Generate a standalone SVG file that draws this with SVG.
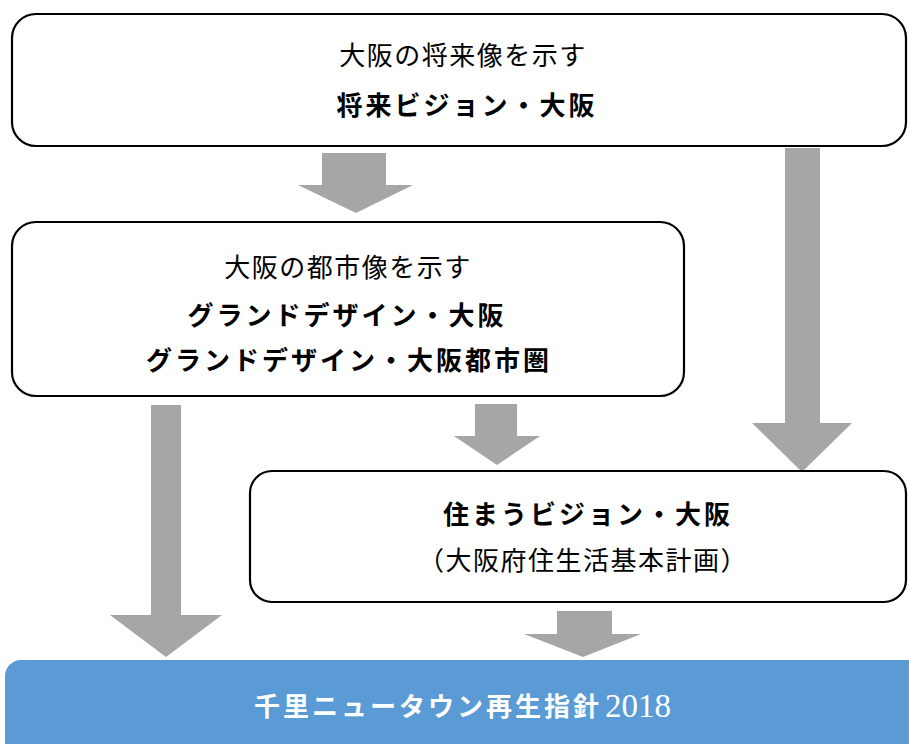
<svg xmlns="http://www.w3.org/2000/svg" width="909" height="744" viewBox="0 0 909 744">
<style>
.box{fill:#fff;stroke:#000;stroke-width:2.2}
.arr{fill:#A6A6A6}
.n{font-family:"Noto Sans CJK JP","Noto Sans",sans-serif;font-size:26px;fill:#000;text-anchor:middle;letter-spacing:1.5px}
.b{font-family:"Noto Sans CJK JP","Noto Sans",sans-serif;font-size:26px;font-weight:bold;fill:#000;text-anchor:middle;letter-spacing:3px}
.w{font-family:"Noto Sans CJK JP","Noto Sans",sans-serif;font-size:26px;font-weight:bold;fill:#fff;letter-spacing:3px}
.wn{font-family:"Liberation Serif",serif;font-size:33px;fill:#fff}
</style>
<rect width="909" height="744" fill="#fff"/>
<g id="connectors">
<polygon class="arr" points="322,153 386,153 386,185 413,185 356,213 298,185 322,185"/>
<polygon class="arr" points="785,148 820,148 820,423 852,423 802,472 752,423 785,423"/>
<polygon class="arr" points="151,405 181,405 181,615 222,615 166,657 110,615 151,615"/>
<polygon class="arr" points="475,404 517,404 517,436 540,436 497,465 454,436 475,436"/>
<polygon class="arr" points="557,611 612,611 612,634 641,634 583,657 524,634 557,634"/>
</g>
<g id="node-top">
<rect class="box" x="12" y="14" width="894" height="132" rx="24"/>
<text class="n" x="463" y="65">大阪の将来像を示す</text>
<text class="b" x="467" y="115">将来ビジョン・大阪</text>
</g>
<g id="node-grand">
<rect class="box" x="12" y="222" width="672" height="174" rx="24"/>
<text class="n" x="348" y="277">大阪の都市像を示す</text>
<text class="b" x="347" y="325">グランドデザイン・大阪</text>
<text class="b" x="349" y="370">グランドデザイン・大阪都市圏</text>
</g>
<g id="node-housing">
<rect class="box" x="250" y="471" width="656" height="131" rx="22"/>
<text class="b" x="588" y="524">住まうビジョン・大阪</text>
<text class="n" x="583" y="570">（大阪府住生活基本計画）</text>
</g>
<g id="node-senri">
<rect x="5" y="660" width="930" height="110" rx="16" fill="#5B9BD5"/>
<text x="254" y="716"><tspan class="w">千里ニュータウン再生指針</tspan><tspan class="wn" x="605" y="717">2018</tspan></text>
</g>
</svg>
